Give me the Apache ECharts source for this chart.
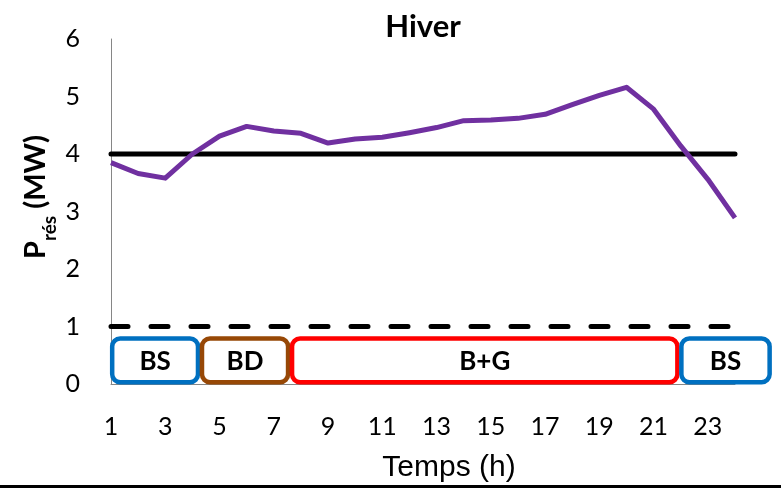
<!DOCTYPE html>
<html>
<head>
<meta charset="utf-8">
<script src="https://cdn.jsdelivr.net/npm/echarts@6/dist/echarts.min.js"></script>
<style>
  html, body { margin: 0; padding: 0; background: #fff; }
  #chart { width: 781px; height: 488px; }
</style>
</head>
<body>
<div id="chart"></div>
<script>
  'use strict'
  /* données */
  var hours = ['1','2','3','4','5','6','7','8','9','10','11','12','13','14','15','16','17','18','19','20','21','22','23','24'];
  var pRes = [3.85, 3.66, 3.58, 4.0, 4.31, 4.48, 4.40, 4.36, 4.19, 4.26, 4.29, 4.37, 4.46, 4.58, 4.59, 4.62, 4.69, 4.86, 5.02, 5.16, 4.78, 4.14, 3.56, 2.89];
  var seuilHaut = 4;
  var seuilBas = 1;
  var yTicks = [0, 1, 2, 3, 4, 5, 6];

  // blocs de fonctionnement (en heures)
  var boxLabels = ['BS', 'BD', 'B+G', 'BS'];
  var boxStart = [0.97, 4.28, 7.6, 21.95];
  var boxEnd = [4.28, 7.6, 21.95, 25.35];
  var boxLow = 0.03;
  var boxHigh = 0.79;
  var boxColors = ['#0070C0', '#974806', '#FF0000', '#0070C0'];

  var FONT = 'Lato, "Open Sans", sans-serif';

  var boxData = boxLabels.map(function (l, i) {
    return [boxStart[i], boxEnd[i], boxLow, boxHigh, i];
  });

  var chart = echarts.init(document.getElementById('chart'));
  chart.setOption({
    animation: false,
    title: {
      text: 'Hiver',
      left: 418,
      top: 6,
      textAlign: 'center',
      textStyle: { fontFamily: FONT, fontWeight: 'bold', fontSize: 31, color: '#000' }
    },
    grid: { left: 111, right: 46, top: 39, bottom: 104 },
    xAxis: [{
      type: 'category',
      data: hours,
      boundaryGap: false,
      axisLine: { lineStyle: { color: '#868686', width: 1 } },
      axisTick: { show: false },
      axisLabel: { interval: 1, margin: 30, fontSize: 25, fontFamily: FONT, color: '#000' }
    }, {
      type: 'value',
      min: 1,
      max: 24,
      show: false
    }],
    yAxis: {
      type: 'value',
      min: yTicks[0],
      max: yTicks[yTicks.length - 1],
      interval: 1,
      splitLine: { show: false },
      axisLine: { show: true, lineStyle: { color: '#868686', width: 1 } },
      axisTick: { show: false },
      axisLabel: { margin: 31, fontSize: 25, fontFamily: FONT, color: '#000' }
    },
    series: [{
      name: 'seuil haut',
      type: 'line',
      data: hours.map(function () { return seuilHaut; }),
      symbol: 'none',
      lineStyle: { color: '#000', width: 5, cap: 'round' },
      z: 2
    }, {
      name: 'seuil bas',
      type: 'line',
      data: hours.map(function () { return seuilBas; }),
      symbol: 'none',
      lineStyle: { color: '#000', width: 5, type: [17, 23], cap: 'round' },
      z: 2
    }, {
      name: 'Pres',
      type: 'line',
      data: pRes,
      symbol: 'none',
      lineStyle: { color: '#7030A0', width: 5, join: 'round' },
      z: 3
    }, {
      name: 'blocs',
      type: 'custom',
      xAxisIndex: 1,
      clip: false,
      data: boxData,
      renderItem: function (params, api) {
        var a = api.coord([api.value(0), api.value(3)]);
        var b = api.coord([api.value(1), api.value(2)]);
        var idx = api.value(4);
        return {
          type: 'group',
          children: [{
            type: 'rect',
            shape: { x: a[0] + 2, y: a[1], width: b[0] - a[0] - 4, height: b[1] - a[1], r: 8 },
            style: { fill: '#fff', stroke: boxColors[idx], lineWidth: 4.5 }
          }, {
            type: 'text',
            style: {
              text: boxLabels[idx],
              x: (a[0] + b[0]) / 2,
              y: (a[1] + b[1]) / 2 + 1,
              align: 'center',
              verticalAlign: 'middle',
              font: 'bold 26px ' + FONT,
              fill: '#000'
            }
          }]
        };
      },
      z: 4
    }],
    graphic: [{
      type: 'text',
      x: 33,
      y: 197,
      rotation: Math.PI / 2,
      style: {
        text: '{b|P}{s|rés}{b| (MW)}',
        align: 'center',
        verticalAlign: 'middle',
        rich: {
          b: { font: 'bold 29px ' + FONT, fill: '#000', lineHeight: 34, verticalAlign: 'bottom' },
          s: { font: 'bold 19px ' + FONT, fill: '#000', lineHeight: 34, verticalAlign: 'bottom', padding: [0, 0, -9, 0] }
        }
      }
    }, {
      type: 'text',
      x: 449,
      y: 468,
      style: {
        text: 'Temps (h)',
        align: 'center',
        verticalAlign: 'middle',
        font: '30px "Liberation Sans", Arial, sans-serif',
        fill: '#000'
      }
    }, {
      type: 'rect',
      z: 10,
      shape: { x: 0, y: 485, width: 781, height: 3 },
      style: { fill: '#000' }
    }]
  });
</script>
</body>
</html>
